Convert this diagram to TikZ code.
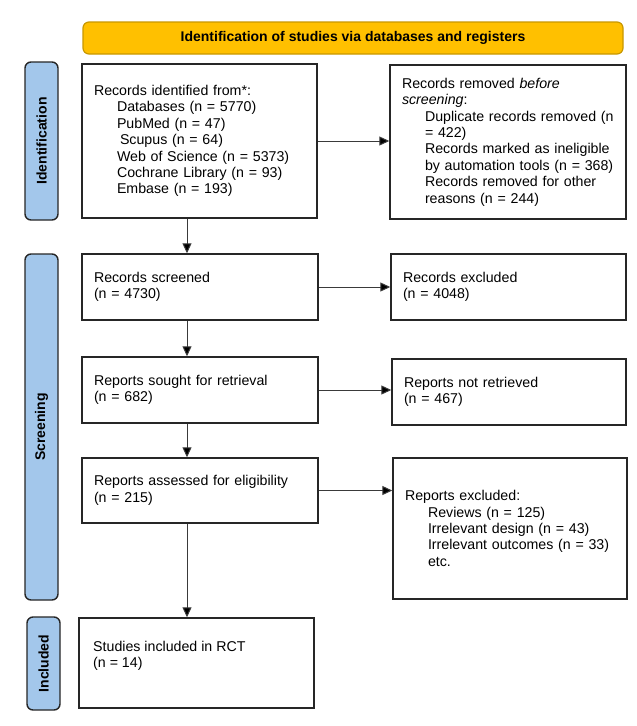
\documentclass[tikz,border=0pt]{standalone}
\usepackage{fontspec}
\setmainfont{Liberation Sans}
\usetikzlibrary{arrows.meta}
\definecolor{banfill}{HTML}{FFC000}
\definecolor{banline}{HTML}{C89800}
\definecolor{sidefill}{HTML}{A3C7EB}
\definecolor{boxline}{HTML}{262626}
\definecolor{arrline}{HTML}{3A3A3A}
\newcommand{\ind}{\hspace*{23pt}}
\begin{document}
\begin{tikzpicture}[x=1pt,y=-1pt,
  every node/.style={font=\fontsize{14.2}{16.4}\selectfont},
  box/.style={draw=boxline, line width=1.4pt, fill=white, inner xsep=12pt, inner ysep=0pt, align=left},
  side/.style={draw=boxline, line width=1.4pt, fill=sidefill, rounded corners=6pt, inner sep=0pt, rotate=90, minimum height=33pt, font=\fontsize{14}{16}\selectfont\bfseries},
  arr/.style={draw=arrline, line width=1pt, -{Triangle[length=10pt,width=9pt,fill=black]}}]
\useasboundingbox (0,0) rectangle (637,726);
\fill[white] (0,0) rectangle (637,726);

\node[draw=banline, fill=banfill, line width=1.2pt, rounded corners=6pt, minimum width=540pt, minimum height=32pt, inner sep=0pt, font=\fontsize{14}{16}\selectfont\bfseries] (ban) at (353,38) {Identification of studies via databases and registers};

\node[side, minimum width=158pt] (s1) at (41.5,141) {Identification};
\node[side, minimum width=346pt] (s2) at (41.5,427) {Screening};
\node[side, minimum width=93pt] (s3) at (43.5,663.5) {Included};

\node[box, minimum width=235pt, minimum height=154pt, text width=211pt] (b1) at (199.5,141) {Records identified from*:\\
\ind Databases (n = 5770)\\
\ind PubMed (n = 47)\\
\hspace*{26pt}Scupus (n = 64)\\
\ind Web of Science (n = 5373)\\
\ind Cochrane Library (n = 93)\\
\ind Embase (n = 193)};

\node[box, minimum width=236pt, minimum height=154pt, text width=212pt] (r1) at (508,142) {Records removed \textit{before}\\
\textit{screening}:\\
\ind Duplicate records removed (n\\
\ind = 422)\\
\ind Records marked as ineligible\\
\ind by automation tools (n = 368)\\
\ind Records removed for other\\
\ind reasons (n = 244)};

\node[box, minimum width=236pt, minimum height=66pt, text width=212pt] (b2) at (200,287) {Records screened\\(n = 4730)};
\node[box, minimum width=235pt, minimum height=66pt, text width=211pt] (r2) at (508.5,287) {Records excluded\\(n = 4048)};

\node[box, minimum width=236pt, minimum height=66pt, text width=212pt] (b3) at (200,390) {Reports sought for retrieval\\(n = 682)};
\node[box, minimum width=234pt, minimum height=66pt, text width=210pt] (r3) at (509,392) {Reports not retrieved\\(n = 467)};

\node[box, minimum width=236pt, minimum height=65pt, text width=212pt] (b4) at (200,490.5) {Reports assessed for eligibility\\(n = 215)};
\node[box, minimum width=234pt, minimum height=141pt, text width=210pt] (r4) at (510,528.5) {Reports excluded:\\
\ind Reviews (n = 125)\\
\ind Irrelevant design (n = 43)\\
\ind Irrelevant outcomes (n = 33)\\
\ind etc.};

\node[box, minimum width=235pt, minimum height=90pt] (b5) at (196.5,663) {};
\node[align=left, anchor=west, inner sep=0pt] (b5t) at (93,656) {Studies included in RCT\\(n = 14)};

\coordinate (ax) at (187,0);
\draw[arr] (b1.south -| ax) -- (b2.north -| ax);
\draw[arr] (b2.south -| ax) -- (b3.north -| ax);
\draw[arr] (b3.south -| ax) -- (b4.north -| ax);
\draw[arr] (b4.south -| ax) -- (b5.north -| ax);

\draw[arr] (b1.east) -- (r1.west |- b1.east);
\draw[arr] (b2.east) -- (r2.west |- b2.east);
\draw[arr] (b3.east) -- (r3.west |- b3.east);
\draw[arr] (b4.east) -- (r4.west |- b4.east);
\end{tikzpicture}
\end{document}
